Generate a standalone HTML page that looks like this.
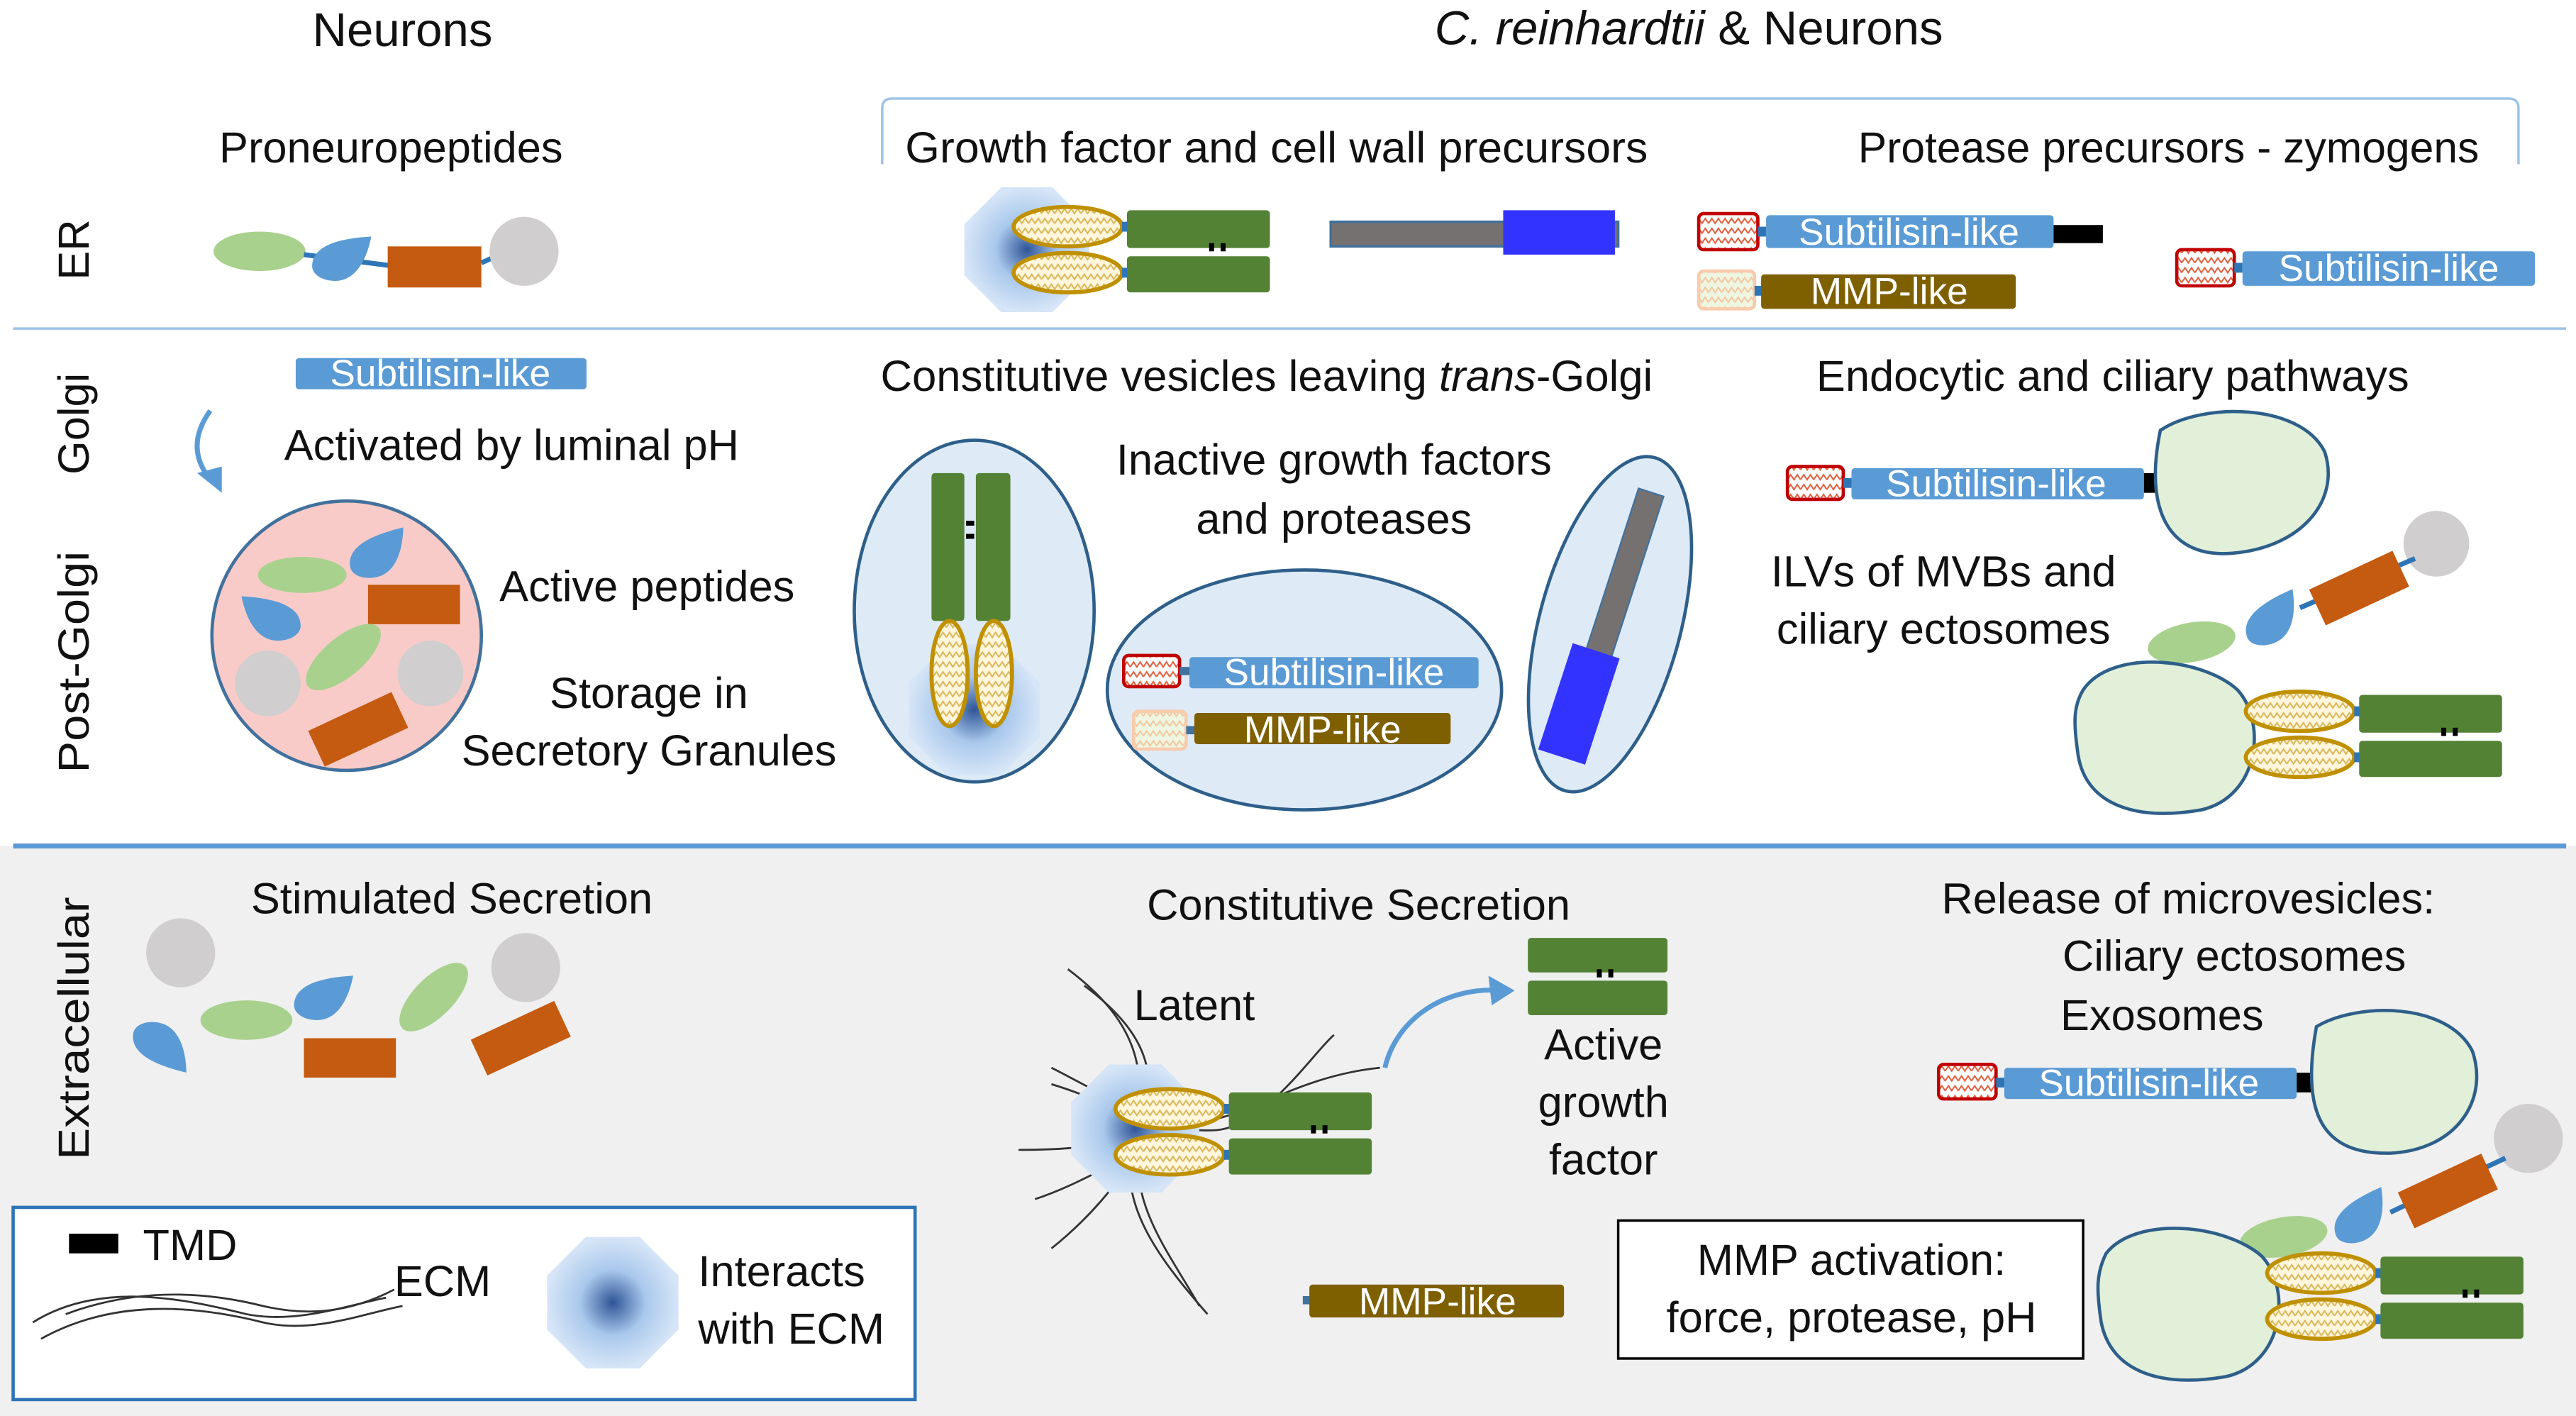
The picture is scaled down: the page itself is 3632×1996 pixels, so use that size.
<!DOCTYPE html>
<html><head><meta charset="utf-8"><style>
html,body{margin:0;padding:0;background:#fff}
svg{display:block}
text{font-family:"Liberation Sans",sans-serif;font-size:26.5px;fill:#111}
.w{fill:#fff;font-size:23px}
.c{text-anchor:middle}
</style></head><body>
<svg width="3632" height="1996" viewBox="0 0 1568 862" preserveAspectRatio="none" xmlns="http://www.w3.org/2000/svg">
<defs>
<pattern id="zz" width="8" height="6" patternUnits="userSpaceOnUse">
<rect width="8" height="6" fill="#fff6dc"/>
<path d="M0,4 L2,1 L4,4 L6,1 L8,4" fill="none" stroke="#d9b75a" stroke-width="0.9"/>
</pattern>
<pattern id="zr" width="8" height="6" patternUnits="userSpaceOnUse">
<rect width="8" height="6" fill="#fff"/>
<path d="M0,4 L2,1 L4,4 L6,1 L8,4" fill="none" stroke="#e06040" stroke-width="0.9"/>
</pattern>
<pattern id="zp" width="8" height="6" patternUnits="userSpaceOnUse">
<rect width="8" height="6" fill="#eef5e0"/>
<path d="M0,4 L2,1 L4,4 L6,1 L8,4" fill="none" stroke="#f2c8a0" stroke-width="0.9"/>
</pattern>
<radialGradient id="oc"><stop offset="0" stop-color="#2f5597"/><stop offset="0.5" stop-color="#a9c8ec"/><stop offset="1" stop-color="#d6e5f7"/></radialGradient>
<symbol id="oct" viewBox="-1 -1 2 2" overflow="visible"><polygon points="-0.41,-1 0.41,-1 1,-0.41 1,0.41 0.41,1 -0.41,1 -1,0.41 -1,-0.41" fill="url(#oc)"/></symbol>
<g id="drop"><path d="M-18,5 C-18,-8 0,-12 18,-13 C15,2 8,14 -4,14 C-12,14 -18,10 -18,5 Z" fill="#5b9bd5"/></g>
<g id="ov"><ellipse rx="33" ry="12" fill="url(#zz)" stroke="#bf9000" stroke-width="2.5"/></g>
<g id="gf">
<use href="#ov" x="0" y="0"/><use href="#ov" x="0" y="28"/>
<rect x="33" y="-3" width="4" height="6" fill="#2e75b6"/><rect x="33" y="25" width="4" height="6" fill="#2e75b6"/>
<rect x="36" y="-10" width="87" height="23" rx="2" fill="#548235"/>
<rect x="36" y="18" width="87" height="22" rx="2" fill="#548235"/>
<rect x="86" y="10" width="3" height="5" fill="#000"/><rect x="93" y="10" width="3" height="5" fill="#000"/>
</g>
</defs>
<rect x="0" y="515" width="1568" height="347" fill="#f0f0f0"/>
<line x1="8" y1="515" x2="1562" y2="515" stroke="#5b9bd5" stroke-width="3"/>
<line x1="8" y1="200" x2="1562" y2="200" stroke="#9dc3e6" stroke-width="1.5"/>
<path d="M537,100 V66 Q537,60 543,60 H1527 Q1533,60 1533,66 V100" fill="none" stroke="#9dc3e6" stroke-width="1.5"/>

<text x="245" y="28" class="c" style="font-size:29px">Neurons</text>
<text x="1028" y="27" class="c" style="font-size:29px"><tspan font-style="italic">C. reinhardtii</tspan> &amp; Neurons</text>
<text x="238" y="99" class="c">Proneuropeptides</text>
<text x="777" y="99" class="c" textLength="452" lengthAdjust="spacingAndGlyphs">Growth factor and cell wall precursors</text>
<text x="1320" y="99" class="c" textLength="378" lengthAdjust="spacingAndGlyphs">Protease precursors - zymogens</text>

<text transform="translate(54,152) rotate(-90)" class="c">ER</text>
<text transform="translate(54,258) rotate(-90)" class="c">Golgi</text>
<text transform="translate(54,403) rotate(-90)" class="c" textLength="135" lengthAdjust="spacingAndGlyphs">Post-Golgi</text>
<text transform="translate(54,626) rotate(-90)" class="c" textLength="160" lengthAdjust="spacingAndGlyphs">Extracellular</text>

<ellipse cx="158" cy="153" rx="28" ry="12" fill="#a9d18e"/>
<line x1="185" y1="155" x2="240" y2="162" stroke="#2e75b6" stroke-width="3"/>
<use href="#drop" x="208" y="157"/>
<rect x="236" y="150" width="57" height="25" fill="#c55a11"/>
<line x1="293" y1="160" x2="302" y2="156" stroke="#2e75b6" stroke-width="3"/>
<circle cx="319" cy="153" r="21" fill="#d0cece"/>

<use href="#oct" x="587" y="114" width="76" height="76"/>
<use href="#gf" x="650" y="138"/>
<rect x="810" y="135" width="175" height="15" fill="#767171" stroke="#41719c" stroke-width="1.5"/>
<rect x="915" y="128" width="68" height="27" fill="#3333ff"/>

<rect x="1034" y="130" width="36" height="22" rx="3" fill="url(#zr)" stroke="#c00000" stroke-width="2"/>
<rect x="1070" y="138" width="5" height="6" fill="#2e75b6"/>
<rect x="1075" y="131" width="175" height="20" rx="2" fill="#5b9bd5"/>
<text x="1162" y="149" class="c w">Subtilisin-like</text>
<rect x="1250" y="137" width="30" height="11" fill="#000"/>
<rect x="1034" y="165" width="34" height="23" rx="3" fill="url(#zp)" stroke="#f8cbad" stroke-width="2"/>
<rect x="1068" y="174" width="5" height="6" fill="#2e75b6"/>
<rect x="1072" y="167" width="155" height="21" rx="2" fill="#7f6000"/>
<text x="1150" y="185" class="c w">MMP-like</text>
<rect x="1325" y="152" width="35" height="22" rx="3" fill="url(#zr)" stroke="#c00000" stroke-width="2"/>
<rect x="1360" y="160" width="5" height="6" fill="#2e75b6"/>
<rect x="1365" y="153" width="178" height="21" rx="2" fill="#5b9bd5"/>
<text x="1454" y="171" class="c w">Subtilisin-like</text>

<rect x="180" y="218" width="177" height="19" rx="2" fill="#5b9bd5"/>
<text x="268" y="235" class="c w">Subtilisin-like</text>
<path d="M128,250 Q112,272 128,292" fill="none" stroke="#5b9bd5" stroke-width="3"/>
<polygon points="120,288 135,300 135,284" fill="#5b9bd5"/>
<text x="173" y="280">Activated by luminal pH</text>
<circle cx="211" cy="387" r="82" fill="#f8cbc8" stroke="#41719c" stroke-width="2"/>
<ellipse cx="184" cy="350" rx="27" ry="11" fill="#a9d18e"/>
<use href="#drop" transform="translate(230,337) rotate(-10)"/>
<use href="#drop" transform="translate(165,376) scale(-1,1)"/>
<rect x="224" y="356" width="56" height="24" fill="#c55a11"/>
<ellipse cx="209" cy="400" rx="28" ry="12" fill="#a9d18e" transform="rotate(-40 209 400)"/>
<circle cx="163" cy="416" r="20" fill="#d0cece"/>
<circle cx="262" cy="410" r="20" fill="#d0cece"/>
<rect x="190" y="432" width="56" height="24" fill="#c55a11" transform="rotate(-25 218 444)"/>
<text x="304" y="366">Active peptides</text>
<text x="395" y="431" class="c">Storage in</text>
<text x="395" y="466" class="c">Secretory Granules</text>

<text x="771" y="238" class="c" textLength="470" lengthAdjust="spacingAndGlyphs">Constitutive vesicles leaving <tspan font-style="italic">trans</tspan>-Golgi</text>
<ellipse cx="593" cy="372" rx="73" ry="104" fill="#deebf7" stroke="#2e5f8a" stroke-width="2"/>
<use href="#oct" x="553" y="392" width="80" height="80"/>
<rect x="567" y="288" width="20" height="90" rx="2" fill="#548235"/>
<rect x="594" y="288" width="21" height="90" rx="2" fill="#548235"/>
<rect x="588" y="317" width="5" height="3" fill="#000"/><rect x="588" y="325" width="5" height="3" fill="#000"/>
<ellipse cx="578" cy="410" rx="11" ry="32" fill="url(#zz)" stroke="#bf9000" stroke-width="2.5"/>
<ellipse cx="605" cy="410" rx="11" ry="32" fill="url(#zz)" stroke="#bf9000" stroke-width="2.5"/>
<text x="812" y="289" class="c">Inactive growth factors</text>
<text x="812" y="325" class="c">and proteases</text>
<ellipse cx="794" cy="420" rx="120" ry="73" fill="#deebf7" stroke="#2e5f8a" stroke-width="2"/>
<rect x="684" y="399" width="34" height="19" rx="3" fill="url(#zr)" stroke="#c00000" stroke-width="2"/>
<rect x="718" y="406" width="6" height="5" fill="#41719c"/>
<rect x="724" y="400" width="176" height="19" rx="2" fill="#5b9bd5"/>
<text x="812" y="417" class="c w">Subtilisin-like</text>
<rect x="690" y="433" width="32" height="23" rx="3" fill="url(#zp)" stroke="#f8cbad" stroke-width="2"/>
<rect x="722" y="442" width="5" height="5" fill="#41719c"/>
<rect x="727" y="434" width="156" height="19" rx="2" fill="#7f6000"/>
<text x="805" y="452" class="c w">MMP-like</text>
<ellipse cx="980" cy="380" rx="43" ry="105" fill="#deebf7" stroke="#2e5f8a" stroke-width="2" transform="rotate(15 980 380)"/>
<g transform="rotate(18 980 380)">
<rect x="971" y="296" width="16" height="110" fill="#767171" stroke="#41719c" stroke-width="1"/>
<rect x="962" y="398" width="30" height="68" fill="#3333ff"/>
</g>

<text x="1286" y="238" class="c">Endocytic and ciliary pathways</text>
<rect x="1088" y="284" width="34" height="20" rx="3" fill="url(#zr)" stroke="#c00000" stroke-width="2"/>
<rect x="1122" y="291" width="5" height="6" fill="#2e75b6"/>
<rect x="1127" y="285" width="178" height="19" rx="2" fill="#5b9bd5"/>
<text x="1215" y="302" class="c w">Subtilisin-like</text>
<rect x="1305" y="288" width="27" height="12" fill="#000"/>
<path d="M1315,262 C1340,245 1400,245 1415,275 C1425,305 1400,335 1355,337 C1320,338 1305,310 1315,262 Z" fill="#e2f0d9" stroke="#2e5f8a" stroke-width="2"/>
<text x="1183" y="357" class="c">ILVs of MVBs and</text>
<text x="1183" y="392" class="c">ciliary ectosomes</text>
<circle cx="1483" cy="331" r="20" fill="#d0cece"/>
<line x1="1400" y1="370" x2="1470" y2="340" stroke="#2e75b6" stroke-width="3"/>
<rect x="1408" y="346" width="56" height="24" fill="#c55a11" transform="rotate(-25 1436 358)"/>
<use href="#drop" transform="translate(1383,377) rotate(-20)"/>
<ellipse cx="1334" cy="391" rx="27" ry="12" fill="#a9d18e" transform="rotate(-10 1334 391)"/>
<path d="M1268,420 C1285,395 1340,400 1362,420 C1380,440 1375,485 1340,493 C1300,500 1270,490 1265,460 C1262,440 1262,430 1268,420 Z" fill="#e2f0d9" stroke="#2e5f8a" stroke-width="2"/>
<use href="#gf" x="1400" y="433"/>

<text x="275" y="556" class="c">Stimulated Secretion</text>
<circle cx="110" cy="580" r="21" fill="#d0cece"/>
<circle cx="320" cy="589" r="21" fill="#d0cece"/>
<use href="#drop" transform="translate(98,637) scale(1,-1) rotate(-10)"/>
<ellipse cx="150" cy="621" rx="28" ry="12" fill="#a9d18e"/>
<use href="#drop" transform="translate(197,607)"/>
<ellipse cx="264" cy="607" rx="27" ry="12" fill="#a9d18e" transform="rotate(-45 264 607)"/>
<rect x="185" y="632" width="56" height="24" fill="#c55a11"/>
<rect x="289" y="620" width="56" height="24" fill="#c55a11" transform="rotate(-25 317 632)"/>

<text x="827" y="560" class="c">Constitutive Secretion</text>
<text x="727" y="621" class="c">Latent</text>
<g fill="none" stroke="#333" stroke-width="1.2">
<path d="M650,590 C690,620 700,650 690,690 C680,730 700,760 735,800"/>
<path d="M660,600 C700,630 705,655 695,690 C685,730 710,760 730,795"/>
<path d="M640,650 C670,665 690,680 730,683 C760,680 790,655 840,650"/>
<path d="M640,660 C680,672 700,690 740,688 C770,686 800,640 812,630"/>
<path d="M620,700 C660,700 690,695 700,690"/>
<path d="M630,730 C660,720 680,705 700,700"/>
<path d="M640,760 C665,740 680,720 690,705"/>
</g>
<use href="#oct" x="652" y="648" width="78" height="78"/>
<use href="#gf" x="712" y="675"/>
<path d="M843,650 C850,620 880,600 915,603" fill="none" stroke="#5b9bd5" stroke-width="3"/>
<polygon points="922,603 906,594 908,612" fill="#5b9bd5"/>
<rect x="930" y="571" width="85" height="21" rx="2" fill="#548235"/>
<rect x="930" y="597" width="85" height="21" rx="2" fill="#548235"/>
<rect x="972" y="590" width="3" height="5" fill="#000"/><rect x="979" y="590" width="3" height="5" fill="#000"/>
<text x="976" y="645" class="c">Active</text>
<text x="976" y="680" class="c">growth</text>
<text x="976" y="715" class="c">factor</text>
<rect x="793" y="789" width="5" height="5" fill="#41719c"/>
<rect x="797" y="782" width="155" height="20" rx="2" fill="#7f6000"/>
<text x="875" y="800" class="c w">MMP-like</text>
<rect x="985" y="743" width="283" height="84" fill="#fff" stroke="#000" stroke-width="1.5"/>
<text x="1127" y="776" class="c">MMP activation:</text>
<text x="1127" y="811" class="c">force, protease, pH</text>

<text x="1332" y="556" class="c">Release of microvesicles:</text>
<text x="1360" y="591" class="c">Ciliary ectosomes</text>
<text x="1316" y="627" class="c">Exosomes</text>
<rect x="1180" y="648" width="35" height="21" rx="3" fill="url(#zr)" stroke="#c00000" stroke-width="2"/>
<rect x="1215" y="656" width="5" height="6" fill="#2e75b6"/>
<rect x="1220" y="650" width="178" height="19" rx="2" fill="#5b9bd5"/>
<text x="1308" y="667" class="c w">Subtilisin-like</text>
<rect x="1398" y="653" width="27" height="12" fill="#000"/>
<path d="M1410,625 C1435,610 1490,610 1505,640 C1515,670 1495,700 1455,702 C1415,703 1400,680 1410,625 Z" fill="#e2f0d9" stroke="#2e5f8a" stroke-width="2"/>
<circle cx="1539" cy="693" r="21" fill="#d0cece"/>
<line x1="1455" y1="738" x2="1525" y2="705" stroke="#2e75b6" stroke-width="3"/>
<rect x="1462" y="713" width="56" height="24" fill="#c55a11" transform="rotate(-25 1490 725)"/>
<use href="#drop" transform="translate(1437,741) rotate(-20)"/>
<ellipse cx="1390" cy="753" rx="27" ry="12" fill="#a9d18e" transform="rotate(-10 1390 753)"/>
<path d="M1282,763 C1300,740 1355,745 1377,765 C1395,785 1390,830 1355,838 C1315,845 1285,835 1279,805 C1276,785 1276,775 1282,763 Z" fill="#e2f0d9" stroke="#2e5f8a" stroke-width="2"/>
<use href="#gf" x="1413" y="775"/>

<rect x="8" y="735" width="549" height="117" fill="#fff" stroke="#2e75b6" stroke-width="2"/>
<rect x="42" y="751" width="30" height="12" fill="#000"/>
<text x="87" y="767">TMD</text>
<g fill="none" stroke="#333" stroke-width="1.2">
<path d="M20,805 C60,780 110,790 150,800 C180,806 210,795 235,790"/>
<path d="M25,815 C70,790 120,795 160,805 C190,812 220,800 245,795"/>
<path d="M40,800 C80,785 120,785 160,795 C190,802 215,798 240,785"/>
</g>
<text x="240" y="789">ECM</text>
<use href="#oct" x="333" y="753" width="80" height="80"/>
<text x="425" y="783">Interacts</text>
<text x="425" y="818">with ECM</text>
</svg>
</body></html>
